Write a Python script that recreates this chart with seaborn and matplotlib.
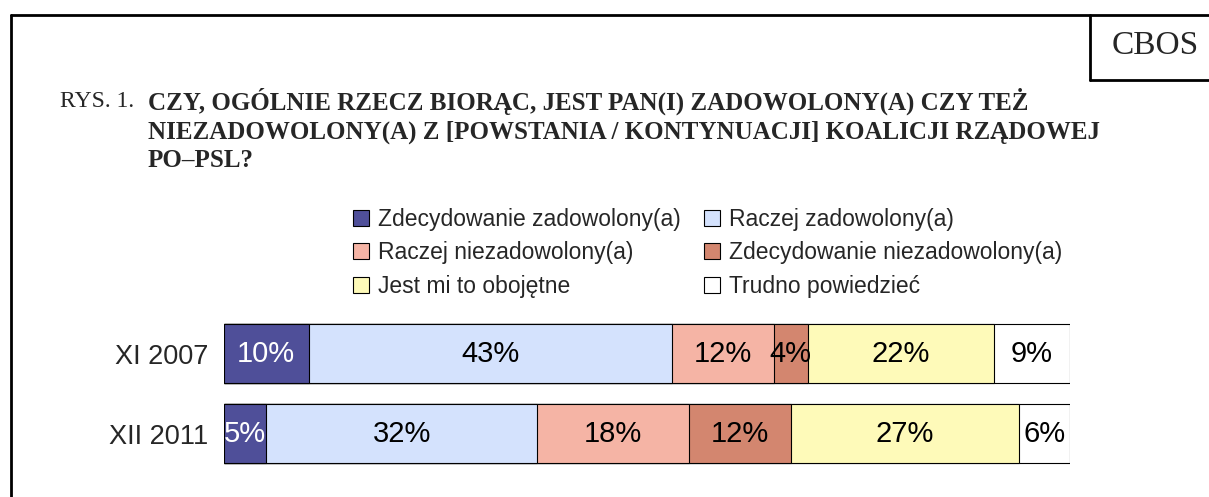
import numpy as np
import pandas as pd
import matplotlib
matplotlib.use("Agg")
import matplotlib.pyplot as plt
from matplotlib.lines import Line2D
from matplotlib.patches import Patch
import seaborn as sns

periods = ["XI 2007", "XII 2011"]
answers = ["Zdecydowanie zadowolony(a)", "Raczej zadowolony(a)",
           "Raczej niezadowolony(a)", "Zdecydowanie niezadowolony(a)",
           "Jest mi to obojętne", "Trudno powiedzieć"]
vals_2007 = [10, 43, 12, 4, 22, 9]
vals_2011 = [5, 32, 18, 12, 27, 6]
colors = ["#4F4F99", "#D4E2FD", "#F5B4A5", "#D3866F", "#FEFAB9", "#FFFFFF"]
text_colors = ["white", "black", "black", "black", "black", "black"]

title = ("CZY, OGÓLNIE RZECZ BIORĄC, JEST PAN(I) ZADOWOLONY(A) CZY TEŻ\n"
         "NIEZADOWOLONY(A) Z [POWSTANIA / KONTYNUACJI] KOALICJI RZĄDOWEJ\n"
         "PO–PSL?")

W, H = 1209, 497
sns.set_style("white")
plt.rcParams["font.family"] = ["Liberation Sans", "DejaVu Sans"]

fig = plt.figure(figsize=(W / 100, H / 100), dpi=100)
ax = fig.add_axes([224 / W, 1 - 473.5 / H, 846 / W, 160 / H])

vals = np.array([vals_2007, vals_2011])
cum = vals.cumsum(axis=1)

# stacked bars: draw cumulative totals from the widest down
for i in range(len(answers) - 1, -1, -1):
    df = pd.DataFrame({"okres": periods, "proc": cum[:, i]})
    sns.barplot(data=df, x="proc", y="okres", orient="h", color=colors[i],
                saturation=1, width=0.74, edgecolor="black", linewidth=0.8, ax=ax)

for r in range(len(periods)):
    for i in range(len(answers)):
        ax.text(cum[r, i] - vals[r, i] / 2, r, f"{vals[r, i]}%", ha="center", va="center",
                fontsize=21, color=text_colors[i])

ax.set_xlim(0, 100)
ax.set_ylim(1.5, -0.5)
ax.set_xlabel("")
ax.set_ylabel("")
ax.set_xticks([])
ax.tick_params(axis="y", length=0, pad=11, labelsize=19.5)
for s in ax.spines.values():
    s.set_visible(False)

# legend (row-wise order in 2 columns)
handles = [Patch(facecolor=c, edgecolor="black", linewidth=0.8) for c in colors]
order = [0, 2, 4, 1, 3, 5]
fig.legend([handles[i] for i in order], [answers[i] for i in order], ncol=2,
           loc="upper left", bbox_to_anchor=(344 / W, 1 - 199 / H), frameon=False,
           fontsize=16.5, handlelength=0.7, handleheight=0.7, handletextpad=0.4,
           labelspacing=0.45, columnspacing=1.0, borderaxespad=0)

# header texts
fig.text(60 / W, 1 - 107 / H, "RYS. 1.", fontsize=17, family="Liberation Serif",
         va="baseline")
fig.text(148 / W, 1 - 88 / H, title, fontsize=18, family="Liberation Serif",
         fontweight="bold", va="top", linespacing=1.27)
fig.text(1155 / W, 1 - 46 / H, "CBOS", fontsize=24, family="Liberation Serif",
         ha="center", va="center")

# frame lines
lw = 2
fig.add_artist(Line2D([11 / W, 11 / W], [0, 1 - 15 / H], color="black", lw=lw))
fig.add_artist(Line2D([11 / W, 1], [1 - 15 / H, 1 - 15 / H], color="black", lw=lw))
fig.add_artist(Line2D([1090 / W, 1090 / W], [1 - 15 / H, 1 - 80 / H], color="black", lw=lw))
fig.add_artist(Line2D([1090 / W, 1], [1 - 80 / H, 1 - 80 / H], color="black", lw=lw))

plt.savefig("out.png", dpi=100)
plt.close()
